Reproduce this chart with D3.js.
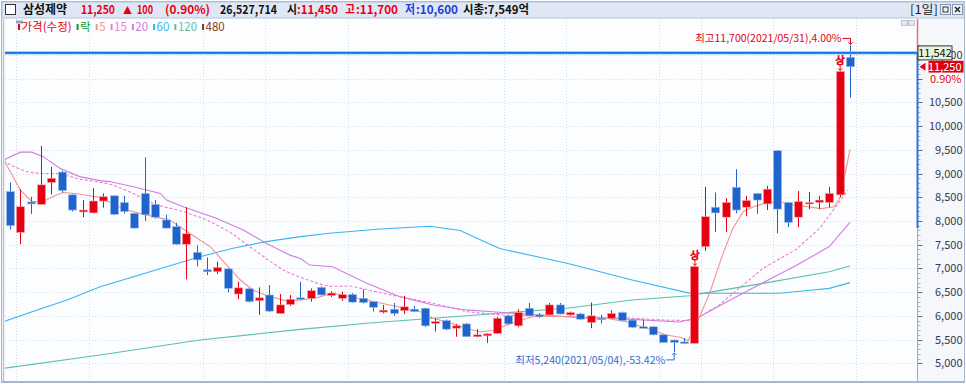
<!DOCTYPE html>
<html><head><meta charset="utf-8">
<script src="https://cdn.jsdelivr.net/npm/d3@7"></script>
<style>
  body { margin: 0; background: #fff; }
  svg text { font-family: "Noto Sans CJK KR", "DejaVu Sans", sans-serif; }
</style>
</head>
<body>
<svg id="chart" width="966" height="384"></svg>
<script>
// daily candles, index 0..81 (last one = 2021/05/31)
const opens  = [8620,7760,8400,8350,8810,9030,8550,8190,8170,8420,8530,8390,8160,8580,8350,8020,7880,7510,7340,6970,
                6930,6990,6460,6570,6320,6440,6050,6240,6380,6370,6600,6430,6370,6450,6370,6300,6080,6140,6110,6140,
                6160,5840,5900,5740,5830,5560,5580,5630,6000,5790,6160,6020,6020,6230,6020,6040,5860,5950,5950,6070,
                5910,5770,5770,5600,5490,5450,5420,7460,8290,8080,8710,8290,8580,8360,9480,8390,8080,8360,8390,8390,
                8550,11450];
const highs  = [8810,8670,8510,9580,9140,9060,8560,8440,8690,8580,8540,8530,8170,9340,8440,8130,7960,8290,7490,7230,
                7140,7000,6720,6590,6600,6650,6460,6440,6720,6580,6620,6520,6510,6480,6560,6310,6230,6270,6420,6210,
                6170,5950,5920,5830,5850,5720,5630,5980,6020,6140,6270,6060,6270,6270,6090,6060,6280,6020,6120,6090,
                5920,5910,5780,5610,5500,5530,7040,8720,8600,8480,9090,8530,8590,8740,9490,8400,8630,8610,8530,8720,
                11150,11700];
const lows   = [7820,7510,8150,8340,8560,8600,8200,8080,8160,8280,8130,8160,7840,8000,8050,7840,7500,6770,7040,6860,
                6880,6500,6350,6280,6020,6080,6040,6210,6330,6300,6430,6400,6320,6280,6260,6090,6050,6000,6040,6080,
                5770,5670,5700,5560,5560,5550,5430,5620,5820,5760,5990,5960,6010,6030,6000,5920,5740,5840,5940,5890,
                5750,5730,5590,5440,5240,5410,5420,7370,7770,7770,8160,8100,8150,8230,7740,7870,7870,8250,8250,8290,
                8500,10600];
const closes = [7900,8300,8360,8760,8900,8640,8230,8230,8420,8510,8140,8200,7850,8130,8080,7850,7510,7730,7180,6930,
                7020,6580,6590,6300,6380,6100,6230,6350,6350,6530,6440,6480,6450,6290,6280,6180,6120,6050,6190,6090,
                5790,5880,5720,5790,5560,5600,5620,5950,5830,6070,6000,5980,6230,6040,6070,5930,6000,5930,6050,5900,
                5760,5740,5600,5440,5440,5420,7040,8090,8170,8390,8230,8430,8440,8670,8250,7970,8410,8390,8440,8580,
                11150,11250];

// moving averages: [day index, price]
const ma5   = [[-0.6,9285],[1,8650],[2.1,8410],[3.2,8410],[4.1,8510],[5.1,8600],[6.3,8580],[8.7,8500],[10.1,8340],
               [11.3,8230],[12.5,8160],[14.5,8060],[15.4,8020],[17.6,7700],[19.3,7460],[20.9,7070],[22.2,6760],
               [23.4,6545],[24.6,6440],[25.7,6370],[26.7,6310],[28,6335],[29.6,6385],[31.1,6475],[34.4,6335],
               [37.6,6180],[39.5,6090],[40.8,5950],[42.4,5855],[44,5740],[45.3,5665],[46.6,5690],[47.9,5805],
               [49.2,5900],[50.4,5980],[51.7,6000],[53.7,5980],[55.6,5950],[57.5,5950],[59.4,5875],[61.4,5740],
               [63.3,5595],[64.6,5550],[65.4,5480],[66.5,5980],[67.5,6500],[68.7,7280],[69.7,7840],[70.7,8200],
               [71.7,8300],[73,8390],[74.3,8400],[75.6,8330],[76.9,8300],[78.2,8260],[79.5,8300],[80.1,8520],[81,9510]];
const ma15  = [[-0.6,9285],[0,9180],[1.6,9040],[2.9,9000],[4.8,9000],[6.7,8880],[8.4,8830],[9.9,8760],[11.9,8580],
               [14.1,8340],[16.7,8200],[19,8020],[21.2,7770],[23.1,7460],[24.7,7210],[26.3,6970],[28,6810],
               [29.6,6690],[30.8,6620],[32.8,6630],[36,6475],[40.8,6265],[44,6090],[47.2,6020],[50.4,6000],
               [55.2,5980],[60,5950],[63.3,5910],[65.5,5900],[66.5,5980],[68.4,6230],[72.6,7000],[75.8,7400],
               [78.1,7850],[80.8,8650]];
const ma20  = [[-0.6,9285],[1,9450],[2.1,9450],[3.2,9355],[4.8,9110],[6.7,8935],[8.7,8850],[9.6,8830],[11.9,8720],
               [14.5,8580],[15.1,8440],[16.7,8300],[19.9,8055],[22.5,7810],[24.7,7530],[27,7280],[28,7210],
               [28.9,7070],[31.1,7035],[34.4,6685],[37.6,6405],[40.8,6230],[44,6125],[47.2,6075],[53.7,5980],
               [60,5925],[64.6,5870],[66.5,5980],[69.4,6330],[72.6,6700],[75.8,7060],[79,7460],[81,7970]];
const ma60  = [[-0.6,5880],[2.2,6090],[5.5,6335],[8.7,6615],[11.9,6825],[15.1,7035],[18.3,7245],[21.5,7425],
               [24.7,7565],[28,7670],[30.8,7740],[35.7,7830],[40.5,7890],[43.4,7800],[47.2,7420],[53.7,7110],
               [60,6755],[65.5,6480],[67.8,6475],[74.2,6475],[77.4,6545],[79,6580],[81,6700]];
const ma120 = [[-0.6,4895],[8.7,5175],[18.3,5490],[28,5715],[34.4,5845],[40.8,5950],[47.2,6055],[53.7,6160],
               [60,6335],[65.5,6425],[67.8,6510],[72.6,6685],[79,6930],[81,7050]];

const maNames  = ["5", "15", "20", "60", "120", "480"];
const maColors = ["#f0948c", "#f07cd0", "#cf7ee0", "#3cb4f0", "#5cc0a4", "#8a3a12"];

const yTicks    = d3.range(5000, 11501, 500);
const gridDays  = [0.6, 7.6, 18.6, 24.6, 32.6, 47.6, 53.6, 62.6, 66.6, 73.6, 81.6];
const markPrice = 11542;
const upLimitDays = [66, 80];
const hiInfo = {price: 11700, date: "2021/05/31", pct: "4.00%"};
const loInfo = {price: 5240,  date: "2021/05/04", pct: "-53.42%"};

const UP = "#e60012", DOWN = "#1f63cc", LOWBLUE = "#2f6fd0";
const fmt = d3.format(",");

const svg = d3.select("#chart");
const W = 966, H = 384;
const plot = {left: 5, right: 917, top: 19, bottom: 381};

const x = d3.scaleLinear().domain([0, 81]).range([10, 850]);
const y = d3.scaleLinear().domain([5000, 11500]).range([363.3, 54.9]);

// backgrounds
svg.append("rect").attr("width", W).attr("height", H).attr("fill", "#fcfdff");
svg.append("rect").attr("x", plot.right).attr("y", plot.top).attr("width", W - plot.right - 3)
  .attr("height", plot.bottom - plot.top).attr("fill", "#f5f7fa");
svg.append("rect").attr("x", 1.5).attr("y", 1.5).attr("width", W - 3).attr("height", H - 3)
  .attr("fill", "none").attr("stroke", "#a7b7cf");
svg.append("line").attr("x1", 3.5).attr("x2", 3.5).attr("y1", plot.top).attr("y2", plot.bottom)
  .attr("stroke", "#b9c3d2").attr("stroke-width", 1.5);
svg.append("line").attr("x1", 2).attr("x2", W - 2).attr("y1", plot.bottom + 0.5).attr("y2", plot.bottom + 0.5)
  .attr("stroke", "#a7b7cf");

// header bar
svg.append("rect").attr("x", 2).attr("y", 2).attr("width", W - 4).attr("height", 16)
  .attr("fill", "#dfe7f5").attr("stroke", "#b4c3dc");
svg.append("rect").attr("x", 5.5).attr("y", 4.5).attr("width", 10).attr("height", 10)
  .attr("fill", "#fff").attr("stroke", "#333");

// header items: text, left x, width, colour
const header = [
  {t: "삼성제약", x: 23, w: 44, c: "#111"},
  {t: "11,250", x: 81, w: 34, c: UP},
  {t: "▲", x: 123, w: 9, c: UP, s: 10},
  {t: "100", x: 137, w: 16, c: UP},
  {t: "(0.90%)", x: 165, w: 45, c: UP},
  {t: "26,527,714", x: 220, w: 57, c: "#111"},
  {t: "시", x: 287, w: 10, c: "#111"},
  {t: ":11,450", x: 297, w: 41, c: UP},
  {t: "고", x: 345, w: 10, c: UP},
  {t: ":11,700", x: 356, w: 42, c: UP},
  {t: "저", x: 405, w: 10, c: "#1c3fd6"},
  {t: ":10,600", x: 416, w: 42, c: "#1c3fd6"},
  {t: "시총:7,549억", x: 463, w: 66, c: "#111"}
];
svg.append("g").selectAll("text").data(header).join("text")
  .attr("x", d => d.x).attr("y", 14)
  .attr("fill", d => d.c)
  .attr("font-size", d => d.s || 12)
  .attr("font-weight", "bold")
  .attr("textLength", d => d.w).attr("lengthAdjust", "spacingAndGlyphs")
  .text(d => d.t);

svg.append("text").attr("x", 910).attr("y", 14).attr("font-size", 12).attr("fill", "#222")
  .attr("textLength", 28).attr("lengthAdjust", "spacingAndGlyphs").text("[1일]");
[940, 952].forEach((bx, i) => {
  svg.append("rect").attr("x", bx + 0.5).attr("y", 4.5).attr("width", 10).attr("height", 10)
    .attr("fill", "#eef1f6").attr("stroke", "#8797b0");
  if (i === 0) {
    svg.append("rect").attr("x", bx + 3).attr("y", 7).attr("width", 5).attr("height", 5)
      .attr("fill", "none").attr("stroke", "#333");
  } else {
    svg.append("path").attr("d", `M${bx + 3},7L${bx + 8},12M${bx + 8},7L${bx + 3},12`)
      .attr("stroke", "#222").attr("stroke-width", 1.4);
  }
});

// grid
const grid = svg.append("g");
grid.selectAll("line.h").data(yTicks).join("line")
  .attr("x1", plot.left).attr("x2", plot.right)
  .attr("y1", d => Math.round(y(d)) + 0.5).attr("y2", d => Math.round(y(d)) + 0.5)
  .attr("stroke", "#d5dbe3").attr("stroke-dasharray", "1,2");
grid.selectAll("line.v").data(gridDays).join("line")
  .attr("x1", d => Math.round(x(d)) + 0.5).attr("x2", d => Math.round(x(d)) + 0.5)
  .attr("y1", plot.top).attr("y2", plot.bottom)
  .attr("stroke", "#d5dbe3").attr("stroke-dasharray", "1,2");

// clip
svg.append("clipPath").attr("id", "clip").append("rect")
  .attr("x", plot.left).attr("y", plot.top).attr("width", plot.right - plot.left)
  .attr("height", plot.bottom - plot.top);
const area = svg.append("g").attr("clip-path", "url(#clip)");

// moving averages
const line = d3.line().x(d => x(d[0])).y(d => y(d[1]));
const maSeries = [ma120, ma60, ma20, ma15, ma5];
const maIdx = [4, 3, 2, 1, 0];
maSeries.forEach((s, k) => {
  area.append("path").datum(s)
    .attr("d", line).attr("fill", "none")
    .attr("stroke", maColors[maIdx[k]]).attr("stroke-width", 1.1)
    .attr("stroke-dasharray", maIdx[k] === 1 ? "3,2" : null);
});

// candles
const days = d3.range(closes.length);
const cg = area.append("g");
cg.selectAll("line").data(days).join("line")
  .attr("x1", i => Math.round(x(i)) + 0.5).attr("x2", i => Math.round(x(i)) + 0.5)
  .attr("y1", i => y(highs[i])).attr("y2", i => y(lows[i]))
  .attr("stroke", i => closes[i] >= opens[i] ? UP : DOWN);
cg.selectAll("rect").data(days).join("rect")
  .attr("x", i => Math.round(x(i)) - 3.5)
  .attr("width", 8)
  .attr("y", i => y(Math.max(opens[i], closes[i])))
  .attr("height", i => Math.max(1.5, Math.abs(y(opens[i]) - y(closes[i]))))
  .attr("fill", i => closes[i] >= opens[i] ? UP : DOWN)
  .attr("stroke", i => closes[i] >= opens[i] ? "#f6a0a0" : "#9cbbe8")
  .attr("stroke-width", 0.6);

// upper-limit markers
upLimitDays.forEach(i => {
  const top = y(closes[i]);
  area.append("text").attr("x", x(i) + 0.5).attr("y", top - 8).attr("text-anchor", "middle")
    .attr("font-size", 10).attr("fill", "#fff").attr("stroke", UP).attr("stroke-width", 0.8)
    .text("상");
  area.append("path").attr("d", `M${x(i) + 0.5},${top - 6}V${top - 1}M${x(i) - 1.5},${top - 3}L${x(i) + 0.5},${top - 1}L${x(i) + 2.5},${top - 3}`)
    .attr("stroke", UP).attr("fill", "none");
});

// horizontal mark line
area.append("line").attr("x1", plot.left).attr("x2", plot.right)
  .attr("y1", y(markPrice)).attr("y2", y(markPrice))
  .attr("stroke", "#8cc4f6").attr("stroke-width", 3.2);
area.append("line").attr("x1", plot.left).attr("x2", plot.right)
  .attr("y1", y(markPrice)).attr("y2", y(markPrice))
  .attr("stroke", "#1672e0").attr("stroke-width", 1.6);

// high / low annotations
const hx = x(81) + 0.5, hy = y(hiInfo.price);
svg.append("text").attr("x", hx - 9).attr("y", hy - 3).attr("text-anchor", "end")
  .attr("font-size", 10.5).attr("fill", UP)
  .text(`최고${fmt(hiInfo.price)}(${hiInfo.date}),${hiInfo.pct}`);
svg.append("path").attr("d", `M${hx - 8},${hy - 7}H${hx}V${hy - 1}M${hx - 2},${hy - 3}L${hx},${hy - 1}L${hx + 2},${hy - 3}`)
  .attr("stroke", UP).attr("fill", "none");

const lx = x(64) + 0.5, ly = y(loInfo.price);
svg.append("text").attr("x", lx - 9).attr("y", ly + 12).attr("text-anchor", "end")
  .attr("font-size", 10.5).attr("fill", LOWBLUE)
  .text(`최저${fmt(loInfo.price)}(${loInfo.date}),${loInfo.pct}`);
svg.append("path").attr("d", `M${lx - 8},${ly + 8}H${lx}V${ly + 1}M${lx - 2},${ly + 3}L${lx},${ly + 1}L${lx + 2},${ly + 3}`)
  .attr("stroke", LOWBLUE).attr("fill", "none");

// legend row
svg.append("rect").attr("x", 16).attr("y", 20.5).attr("width", 7).attr("height", 3).attr("fill", "#8ea4c8");
const legend = [{t: "가격(수정)", c: UP}, {t: "락", c: "#149a2e"}]
  .concat(maNames.map((n, i) => ({t: n, c: maColors[i]})));
let lxPos = 18;
legend.forEach(d => {
  svg.append("rect").attr("x", lxPos).attr("y", 24).attr("width", 2).attr("height", 6).attr("fill", d.c);
  const t = svg.append("text").attr("x", lxPos + 3.5).attr("y", 31).attr("font-size", 11.5)
    .attr("fill", d.c).text(d.t);
  lxPos += 3.5 + t.node().getComputedTextLength() + 5;
});

// tiny buttons top right of plot
[901, 908].forEach(bx => {
  svg.append("rect").attr("x", bx + 0.5).attr("y", 20.5).attr("width", 6).attr("height", 5)
    .attr("fill", "#e4e8ee").attr("stroke", "#a0a8b4").attr("stroke-width", 0.6);
});

// right axis
const ax = svg.append("g").attr("transform", `translate(${plot.right + 0.5},0)`);
ax.selectAll("line.minor").data(d3.range(5000, 11701, 100)).join("line")
  .attr("x1", 0).attr("x2", 3).attr("y1", d => Math.round(y(d)) + 0.5).attr("y2", d => Math.round(y(d)) + 0.5)
  .attr("stroke", "#a4b4cc");
ax.selectAll("line.major").data(yTicks).join("line")
  .attr("x1", 0).attr("x2", 5).attr("y1", d => Math.round(y(d)) + 0.5).attr("y2", d => Math.round(y(d)) + 0.5)
  .attr("stroke", "#556a8c");
ax.selectAll("text").data(yTicks.filter(d => d !== 11000)).join("text")
  .attr("x", 45).attr("y", d => y(d) + 4).attr("text-anchor", "end")
  .attr("font-size", 11).attr("fill", "#333a55").text(d => fmt(d));
ax.append("line").attr("y1", plot.top).attr("y2", plot.bottom).attr("stroke", "#95abcb");
ax.append("line").attr("y1", y(markPrice)).attr("y2", 228).attr("stroke", "#2f72dd").attr("stroke-width", 2);
ax.append("line").attr("y1", plot.top).attr("y2", y(markPrice) - 2).attr("stroke", "#f07070").attr("stroke-width", 1.5);

// price labels on the axis
const ym = y(markPrice);
ax.append("rect").attr("x", 0.5).attr("y", ym - 7).attr("width", 34).attr("height", 14)
  .attr("fill", "#e6f4dc").attr("stroke", "#333");
ax.append("text").attr("x", 17.5).attr("y", ym + 4).attr("text-anchor", "middle")
  .attr("font-size", 11).attr("fill", "#111").text(fmt(markPrice));

const yc = y(closes[81]);
ax.append("path").attr("d", `M2,${yc}L8,${yc - 4}V${yc + 4}Z`).attr("fill", UP);
ax.append("rect").attr("x", 11).attr("y", yc - 6).attr("width", 35).attr("height", 12).attr("fill", "#e00010");
ax.append("text").attr("x", 44).attr("y", yc + 4).attr("text-anchor", "end")
  .attr("font-size", 11).attr("fill", "#fff").text(fmt(closes[81]));
ax.append("rect").attr("x", 11).attr("y", yc + 6).attr("width", 35).attr("height", 12).attr("fill", "#fff");
ax.append("text").attr("x", 44).attr("y", yc + 16).attr("text-anchor", "end")
  .attr("font-size", 11).attr("fill", UP).text("0.90%");
</script>
</body></html>
